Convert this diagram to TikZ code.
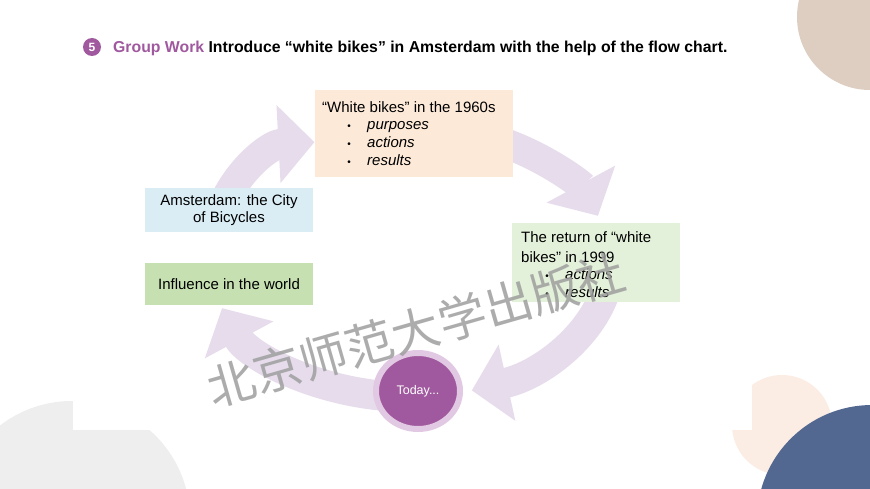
\documentclass[tikz,border=0pt]{standalone}
\usepackage{fontspec}
\setmainfont{Liberation Sans}
\newfontfamily\cjk{Noto Sans CJK SC}
\usetikzlibrary{arrows.meta,shapes.geometric}
\definecolor{beige}{HTML}{DDCEC1}
\definecolor{navy}{HTML}{536890}
\definecolor{peachbg}{HTML}{FBEDE4}
\definecolor{graybg}{HTML}{EEEEEE}
\definecolor{purp}{HTML}{A0589E}
\definecolor{lav}{HTML}{E7DCEC}
\definecolor{ringc}{HTML}{E2C9E3}
\definecolor{peachbox}{HTML}{FCE9D8}
\definecolor{bluebox}{HTML}{DAEDF5}
\definecolor{greenbox}{HTML}{C6E0B2}
\definecolor{lgreenbox}{HTML}{E3F0DA}
\begin{document}
\begin{tikzpicture}[x=1pt,y=-1pt,
  band/.style={draw=lav, line width=30pt, -{Triangle[width=76pt,length=36pt,color=lav]}},
  boxbg/.style={inner sep=0pt, outer sep=0pt, anchor=north west},
  txt/.style={inner sep=0pt, font=\fontsize{15}{16.5}\selectfont},
  itm/.style={inner sep=0pt, anchor=base west, font=\fontsize{15}{16}\selectfont\itshape},
  bul/.style={inner sep=0pt, anchor=base, font=\fontsize{10}{12}\selectfont}
]
\useasboundingbox (0,0) rectangle (870,489);
\fill[white] (0,0) rectangle (870,489);
% background decorations
\fill[beige] (870,17) circle[radius=73pt];
\fill[peachbg] (782,425) circle[radius=50pt];
\fill[graybg] (72,519) circle[radius=118pt];
\fill[white] (73,60) rectangle (752,430);
\fill[navy] (872,520) circle[radius=115pt];
% title
\node[circle, fill=purp, minimum size=18pt, inner sep=0pt, text=white, font=\bfseries\fontsize{12}{12}\selectfont] (num) at (92,47) {5};
\node[anchor=base west, inner sep=0pt, font=\bfseries\fontsize{15.8}{16}\selectfont] (title) at (113,52.5) {\textcolor{purp}{Group Work} Introduce “white bikes” in Amsterdam with the help of the flow chart.};
% cycle arrows
\draw[band] ({320+106*cos(165)},{248-106*sin(165)}) arc[start angle=165,end angle=93,radius=106pt];
\draw[band] ({410+200*cos(62)},{262-135*sin(62)}) arc[start angle=62,end angle=20,x radius=200pt,y radius=135pt];
\draw[band] ({410+200*cos(-12)},{262-135*sin(-12)}) arc[start angle=-12,end angle=-72,x radius=200pt,y radius=135pt];
\draw[band] ({410+200*cos(-98)},{262-135*sin(-98)}) arc[start angle=-98,end angle=-160,x radius=200pt,y radius=135pt];
% boxes
\node[boxbg, fill=peachbox, minimum width=198pt, minimum height=87pt] (b60) at (315,90) {};
\node[boxbg, fill=bluebox, minimum width=168pt, minimum height=44pt] (city) at (145,188) {};
\node[boxbg, fill=greenbox, minimum width=168pt, minimum height=42pt] (infl) at (145,263) {};
\node[boxbg, fill=lgreenbox, minimum width=168pt, minimum height=79pt] (b99) at (512,223) {};
% top box text
\node[txt, anchor=base west] (t60) at (322,113) {“White bikes” in the 1960s};
\node[bul] (p1) at (349,130) {•};
\node[itm] (i1) at (367,130) {purposes};
\node[bul] (p2) at (349,148) {•};
\node[itm] (i2) at (367,148) {actions};
\node[bul] (p3) at (349,166) {•};
\node[itm] (i3) at (367,166) {results};
% left boxes text
\node[txt, align=center] (tcity) at (229,210) {Amsterdam: the City\\of Bicycles};
\node[txt] (tinfl) at (229,284) {Influence in the world};
% right box text
\node[txt, anchor=base west] (t99a) at (521,243) {The return of “white};
\node[txt, anchor=base west] (t99b) at (521,262) {bikes” in 1999};
\node[bul] (q1) at (547,279) {•};
\node[itm] (j1) at (565,279) {actions};
\node[bul] (q2) at (547,297) {•};
\node[itm] (j2) at (565,297) {results};
% today
\node[ellipse, draw=ringc, line width=6pt, fill=purp, minimum width=84pt, minimum height=76pt, inner sep=0pt, text=white, font=\fontsize{12.5}{12}\selectfont] (today) at (418,391) {Today...};
% watermark
\node[rotate=16, text=black!38, opacity=0.85, inner sep=0pt, font=\cjk\fontsize{48}{48}\selectfont] (wm) at (416,330) {北京师范大学出版社};
\end{tikzpicture}
\end{document}
